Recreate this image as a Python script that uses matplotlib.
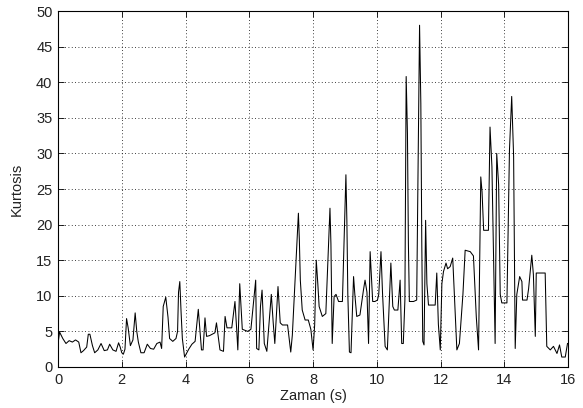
import matplotlib
matplotlib.use("Agg")
import matplotlib.pyplot as plt

# zaman (s) ve kurtosis degerleri
t_0_2 = [0, 0.05, 0.15, 0.25, 0.35, 0.45, 0.55, 0.65, 0.72, 0.8, 0.9, 0.95, 1.0,
         1.08, 1.15, 1.25, 1.35, 1.45, 1.55, 1.62, 1.72, 1.82, 1.9, 1.95, 2.0, 2.05]
k_0_2 = [3.3, 4.9, 4.0, 3.3, 3.7, 3.5, 3.8, 3.5, 2.0, 2.3, 2.8, 4.6, 4.6,
         3.0, 2.0, 2.4, 3.3, 2.3, 2.4, 3.2, 2.4, 2.2, 3.4, 2.8, 2.0, 1.8]

t_2_4 = [2.1, 2.15, 2.2, 2.27, 2.35, 2.42, 2.47, 2.52, 2.6, 2.7, 2.8, 2.9, 3.0, 3.1,
         3.2, 3.25, 3.3, 3.38, 3.45, 3.5, 3.6, 3.7, 3.75, 3.78, 3.82, 3.86, 3.9, 3.97]
k_2_4 = [2.5, 6.8, 5.5, 3.0, 3.8, 7.6, 5.0, 3.5, 2.0, 2.0, 3.2, 2.6, 2.5, 3.3,
         3.5, 2.6, 8.5, 9.8, 7.0, 4.0, 3.6, 4.0, 5.0, 10.5, 12.0, 7.7, 4.0, 1.4]

t_4_6 = [4.1, 4.2, 4.3, 4.4, 4.5, 4.55, 4.61, 4.66, 4.75, 4.92, 4.97,
         5.08, 5.19, 5.24, 5.3, 5.45, 5.55, 5.6, 5.64, 5.7, 5.78, 5.95]
k_4_6 = [2.5, 3.2, 3.6, 8.1, 2.4, 2.4, 6.9, 4.3, 4.4, 4.8, 6.2,
         2.4, 2.2, 7.1, 5.5, 5.5, 9.2, 5.6, 2.4, 11.7, 5.3, 5.0]

t_6_8 = [6.05, 6.2, 6.23, 6.3, 6.35, 6.4, 6.47, 6.55, 6.69, 6.75, 6.8, 6.9, 6.97,
         7.04, 7.2, 7.3, 7.35, 7.54, 7.57, 7.6, 7.66, 7.75, 7.85, 7.93, 8.0]
k_6_8 = [5.3, 12.2, 2.6, 2.4, 8.5, 10.8, 3.3, 2.2, 10.2, 6.2, 3.3, 11.3, 6.2,
         5.9, 5.9, 2.1, 4.5, 21.6, 17.8, 12.2, 8.0, 6.6, 6.6, 5.3, 2.4]

t_8_10 = [8.05, 8.1, 8.15, 8.19, 8.29, 8.4, 8.53, 8.56, 8.6, 8.66, 8.72, 8.8, 8.92,
          9.03, 9.06, 9.09, 9.14, 9.19, 9.27, 9.31, 9.37, 9.47, 9.58, 9.63, 9.69,
          9.74, 9.79, 9.87, 9.94]
k_8_10 = [5.9, 15.0, 11.6, 8.5, 7.1, 7.5, 22.3, 17.3, 3.3, 9.9, 10.2, 9.2, 9.2,
          27.0, 20.6, 10.2, 2.1, 2.0, 12.7, 10.2, 7.1, 7.3, 10.8, 12.2, 10.5,
          3.3, 16.2, 9.2, 9.2]

t_10_12 = [10.02, 10.06, 10.13, 10.18, 10.26, 10.33, 10.44, 10.5, 10.55, 10.66,
           10.73, 10.78, 10.83, 10.88, 10.92, 10.96, 10.99, 11.02, 11.15, 11.25,
           11.34, 11.38, 11.41, 11.44, 11.48, 11.53, 11.57, 11.62, 11.83, 11.88,
           11.93, 11.99]
k_10_12 = [9.4, 10.2, 16.2, 10.2, 2.9, 2.4, 14.6, 8.5, 8.0, 8.0,
           12.2, 3.3, 3.3, 9.4, 40.8, 32.8, 17.3, 9.2, 9.2, 9.4,
           48.0, 37.0, 17.3, 3.6, 3.1, 20.6, 11.7, 8.7, 8.7, 13.2,
           6.0, 2.4]

t_12_14 = [12.04, 12.09, 12.17, 12.22, 12.3, 12.38, 12.44, 12.51, 12.59, 12.7,
           12.77, 12.93, 13.03, 13.12, 13.19, 13.26, 13.3, 13.35, 13.5, 13.55,
           13.61, 13.66, 13.71, 13.76, 13.82, 13.87, 13.92]
k_12_14 = [11.7, 13.4, 14.6, 13.8, 14.1, 15.3, 9.4, 2.4, 3.3, 10.2,
           16.4, 16.2, 15.6, 7.0, 2.4, 26.7, 24.6, 19.2, 19.2, 33.7,
           28.1, 15.6, 3.3, 30.0, 25.6, 10.2, 9.0]

t_14_16 = [14.08, 14.16, 14.23, 14.29, 14.34, 14.39, 14.48, 14.55, 14.57, 14.71,
           14.76, 14.86, 14.91, 14.97, 15.0, 15.07, 15.28, 15.33, 15.44, 15.54,
           15.65, 15.73, 15.8, 15.91, 15.98]
k_14_16 = [9.0, 30.5, 38.0, 29.6, 2.6, 10.2, 12.7, 12.0, 9.4, 9.4,
           11.0, 15.7, 13.0, 4.3, 13.2, 13.2, 13.2, 2.9, 2.4, 2.9,
           1.9, 3.1, 1.4, 1.4, 3.3]

x_ticks = [0, 2, 4, 6, 8, 10, 12, 14, 16]
y_ticks = [0, 5, 10, 15, 20, 25, 30, 35, 40, 45, 50]

zaman = t_0_2 + t_2_4 + t_4_6 + t_6_8 + t_8_10 + t_10_12 + t_12_14 + t_14_16
kurtosis = k_0_2 + k_2_4 + k_4_6 + k_6_8 + k_8_10 + k_10_12 + k_12_14 + k_14_16

plt.rcParams['font.family'] = ['Liberation Sans', 'DejaVu Sans']

fig = plt.figure(figsize=(5.83, 4.08), dpi=100)
ax = fig.add_axes([0.0995, 0.1005, 0.875, 0.8725])

ax.plot(zaman, kurtosis, color='black', linewidth=0.75)

ax.set_xlim(0, 16)
ax.set_ylim(0, 50)
ax.set_xticks(x_ticks)
ax.set_yticks(y_ticks)
ax.grid(True, linestyle=(0, (1, 3)), color='black', linewidth=0.6)
ax.tick_params(direction='in', length=4, width=0.6, top=True, right=True,
               labelsize=10.5, labelcolor='#222222', pad=4)
for s in ax.spines.values():
    s.set_linewidth(0.8)

ax.set_xlabel('Zaman (s)', fontsize=10.5, color='#222222', labelpad=2)
ax.set_ylabel('Kurtosis', fontsize=10.5, color='#222222', labelpad=9)

fig.savefig('out.png', dpi=100)
